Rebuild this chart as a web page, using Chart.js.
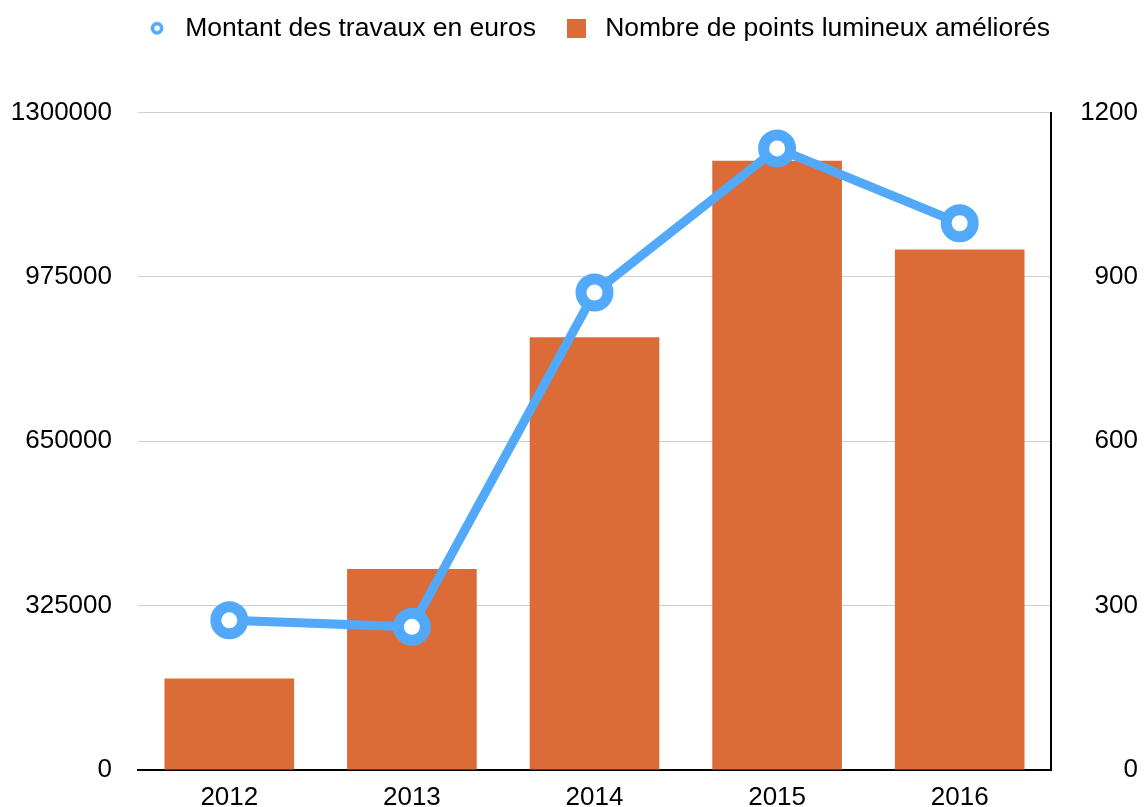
<!DOCTYPE html>
<html lang="fr">
<head>
<meta charset="utf-8">
<title>Éclairage public 2012-2016</title>
<script src="https://cdn.jsdelivr.net/npm/chart.js@4/dist/chart.umd.min.js"></script>
<style>
    html, body { margin: 0; padding: 0; background: #fff; }
    #wrap { width: 1144px; height: 807px; }
</style>
</head>
<body>
<div id="wrap"><canvas id="travauxChart"></canvas></div>
<script>
// Données 2012 - 2016
const annees = ['2012', '2013', '2014', '2015', '2016'];
const montantTravaux = [296000, 283000, 944000, 1229000, 1081000];
const pointsLumineux = [167, 367, 790, 1112, 950];
const ticksMontant = [0, 325000, 650000, 975000, 1300000];
const ticksPoints = [0, 300, 600, 900, 1200];

const BLEU = 'rgb(83, 169, 249)';
const ORANGE = 'rgb(219, 108, 55)';

Chart.defaults.font.family = '"Liberation Sans", Helvetica, Arial, sans-serif';
Chart.defaults.font.size = 26;
Chart.defaults.color = '#000';

// petites icones de légende
function iconeCercle() {
    const c = document.createElement('canvas');
    c.width = 16; c.height = 16;
    const g = c.getContext('2d');
    g.beginPath();
    g.arc(8, 8, 4.6, 0, Math.PI * 2);
    g.fillStyle = '#fff';
    g.fill();
    g.lineWidth = 3.6;
    g.strokeStyle = BLEU;
    g.stroke();
    return c;
}

function iconeCarre() {
    const c = document.createElement('canvas');
    c.width = 19; c.height = 19;
    const g = c.getContext('2d');
    g.fillStyle = ORANGE;
    g.fillRect(0, 0, 19, 19);
    return c;
}

const icones = [iconeCercle(), iconeCarre()];

// espace sous la légende + petit décalage
const legendeEspace = {
    id: 'legendeEspace',
    beforeInit(chart) {
        const fitOrig = chart.legend.fit;
        chart.legend.fit = function () {
            fitOrig.bind(chart.legend)();
            this.height += 48;
        };
    },
    afterLayout(chart) {
        chart.legend.left += 22;
        chart.legend.right += 22;
        chart.legend.top -= 13;
    }
};

// largeur fixe des axes verticaux, sans la marge du padding en haut/bas
function axeVertical(largeur) {
    return (axis) => {
        axis.width = largeur;
        axis.paddingTop = 16;
        axis.paddingBottom = 16;
    };
}

new Chart(document.getElementById('travauxChart'), {
    data: {
        labels: annees,
        datasets: [{
            type: 'line',
            label: 'Montant des travaux en euros',
            data: montantTravaux,
            yAxisID: 'y',
            order: 0,
            borderColor: BLEU,
            borderWidth: 9,
            tension: 0,
            pointRadius: 13.5,
            pointHoverRadius: 13.5,
            pointBorderWidth: 11,
            pointBackgroundColor: '#fff',
            pointBorderColor: BLEU
        }, {
            type: 'bar',
            label: 'Nombre de points lumineux améliorés',
            data: pointsLumineux,
            yAxisID: 'y1',
            order: 1,
            backgroundColor: ORANGE,
            barPercentage: 0.71,
            categoryPercentage: 1
        }]
    },
    options: {
        responsive: true,
        maintainAspectRatio: false,
        animation: false,
        layout: {
            padding: { top: 2, left: 10, right: 6, bottom: 0 }
        },
        plugins: {
            legend: {
                display: true,
                position: 'top',
                labels: {
                    usePointStyle: true,
                    pointStyleWidth: 30,
                    padding: 26,
                    font: { size: 26.5 },
                    generateLabels: (chart) => {
                        const items = Chart.defaults.plugins.legend.labels.generateLabels(chart);
                        items.forEach(item => { item.pointStyle = icones[item.datasetIndex]; });
                        return items;
                    }
                }
            },
            tooltip: { enabled: false }
        },
        scales: {
            x: {
                grid: { display: false, drawTicks: false },
                border: { display: true, color: '#000', width: 2 },
                ticks: { padding: 12 },
                afterFit: (axis) => { axis.height = 37; }
            },
            y: {
                position: 'left',
                min: 0,
                max: 1300000,
                afterBuildTicks: (axis) => { axis.ticks = ticksMontant.map(v => ({ value: v })); },
                afterFit: axeVertical(128),
                grid: { color: '#cfcfcf', lineWidth: 1, drawTicks: false },
                border: { display: false },
                ticks: {
                    padding: 26,
                    callback: (value) => String(value)
                }
            },
            y1: {
                position: 'right',
                min: 0,
                max: 1200,
                afterBuildTicks: (axis) => { axis.ticks = ticksPoints.map(v => ({ value: v })); },
                afterFit: axeVertical(87),
                grid: { drawOnChartArea: false, drawTicks: false },
                border: { display: true, color: '#000', width: 2 },
                ticks: {
                    padding: 29,
                    crossAlign: 'far',
                    callback: (value) => String(value)
                }
            }
        }
    },
    plugins: [legendeEspace]
});
</script>
</body>
</html>
